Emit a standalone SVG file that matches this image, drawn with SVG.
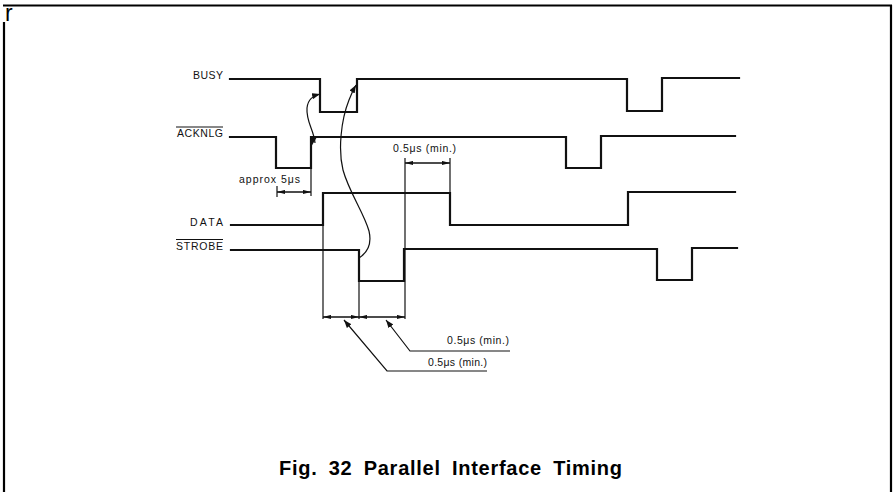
<svg xmlns="http://www.w3.org/2000/svg" width="896" height="492" viewBox="0 0 896 492">
<style>
  .sig{fill:none;stroke:#111;stroke-width:2.2;stroke-linejoin:miter;stroke-linecap:square}
  .ext{fill:none;stroke:#111;stroke-width:1.2}
  .dim{fill:none;stroke:#111;stroke-width:1.4}
  .crv{fill:none;stroke:#111;stroke-width:1.2}
  .frame{fill:none;stroke:#000;stroke-width:2.2}
  .lbl{font-family:"Liberation Sans",Arial,sans-serif;font-size:10.5px;fill:#111}
  .cap{font-family:"Liberation Sans",Arial,sans-serif;font-size:20px;font-weight:bold;fill:#000;word-spacing:5px}
</style>
<defs>
  <marker id="dimArrow" viewBox="0 0 8 5" refX="8" refY="2.5" markerWidth="8" markerHeight="5" markerUnits="userSpaceOnUse" orient="auto-start-reverse">
    <path d="M0,0.4 L8,2.5 L0,4.6 z" fill="#111"/>
  </marker>
  <marker id="crvArrow" viewBox="0 0 8 6" refX="8" refY="3" markerWidth="8" markerHeight="6" markerUnits="userSpaceOnUse" orient="auto">
    <path d="M0,0 L8,3 L0,6 z" fill="#111"/>
  </marker>
</defs>
<rect width="896" height="492" fill="#fff"/>

<g id="frame">
  <line class="frame" x1="3" y1="5.5" x2="892" y2="5.5"/>
  <line class="frame" x1="891" y1="5" x2="891" y2="492"/>
  <line class="frame" x1="4" y1="22" x2="4" y2="492"/>
  <text x="5" y="21" style="font-family:'Liberation Sans',Arial,sans-serif;font-size:23px;fill:#000">r</text>
</g>

<g id="busy">
  <text class="lbl" x="223" y="79" text-anchor="end" textLength="30" lengthAdjust="spacing">BUSY</text>
  <path class="sig" d="M230,79 H320 V112 H357 V79 H627 V111 H662 V78 H739"/>
</g>

<g id="acknlg">
  <text class="lbl" x="223" y="137" text-anchor="end" textLength="46" lengthAdjust="spacing">ACKNLG</text>
  <line x1="176" y1="127" x2="223" y2="127" stroke="#111" stroke-width="1"/>
  <path class="sig" d="M230,137 H276 V168 H311 V137 H566 V168 H601 V136 H735"/>
</g>

<g id="data">
  <text class="lbl" x="223" y="226" text-anchor="end" textLength="33" lengthAdjust="spacing">DATA</text>
  <path class="sig" d="M231,225 H323 V193 H450 V225 H628 V192 H735"/>
</g>

<g id="strobe">
  <text class="lbl" x="223" y="250" text-anchor="end" textLength="47" lengthAdjust="spacing">STROBE</text>
  <line x1="176" y1="239.5" x2="223" y2="239.5" stroke="#111" stroke-width="1"/>
  <path class="sig" d="M231,250 H359 V281 H404 V249 H657 V280 H692 V248 H737"/>
</g>

<g id="connectors">
  <line class="ext" x1="311" y1="168" x2="311" y2="196"/>
  <line class="ext" x1="277" y1="186" x2="277" y2="197"/>
  <line class="ext" x1="323" y1="225" x2="323" y2="319"/>
  <line class="ext" x1="359" y1="281" x2="359" y2="319"/>
  <line class="ext" x1="405" y1="158" x2="405" y2="319"/>
  <line class="ext" x1="450" y1="158" x2="450" y2="193"/>

  <line class="dim" x1="277" y1="192" x2="311" y2="192" marker-start="url(#dimArrow)" marker-end="url(#dimArrow)"/>
  <line class="dim" x1="405" y1="163" x2="450" y2="163" marker-start="url(#dimArrow)" marker-end="url(#dimArrow)"/>
  <line class="dim" x1="323" y1="317" x2="359" y2="317" marker-start="url(#dimArrow)" marker-end="url(#dimArrow)"/>
  <line class="dim" x1="359" y1="317" x2="405" y2="317" marker-start="url(#dimArrow)" marker-end="url(#dimArrow)"/>

  <path class="ext" d="M487,371 H387 L344,320" marker-end="url(#crvArrow)"/>
  <path class="ext" d="M510,351 H410 L386,320" marker-end="url(#crvArrow)"/>

  <path class="crv" d="M359,258 C367,253 372,244 369,231 C364,213 349,192 343,170 C338,150 341,120 349,100 Q352,92 356,85" marker-end="url(#crvArrow)"/>
  <path class="crv" d="M315,143 C314,130 306,122 307,108 C308,99 313,96 320,94" marker-end="url(#crvArrow)"/>
  <polygon points="311,137 317,137 311,147" fill="#111"/>
</g>

<g id="labels">
  <text class="lbl" x="239" y="183" textLength="61" lengthAdjust="spacing">approx 5μs</text>
  <text class="lbl" x="393" y="152" textLength="63" lengthAdjust="spacing">0.5μs (min.)</text>
  <text class="lbl" x="447" y="344" textLength="62" lengthAdjust="spacing">0.5μs (min.)</text>
  <text class="lbl" x="428" y="366" textLength="59" lengthAdjust="spacing">0.5μs (min.)</text>
</g>

<g id="caption">
  <text class="cap" x="279" y="475" textLength="343" lengthAdjust="spacing">Fig. 32 Parallel Interface Timing</text>
</g>
</svg>
